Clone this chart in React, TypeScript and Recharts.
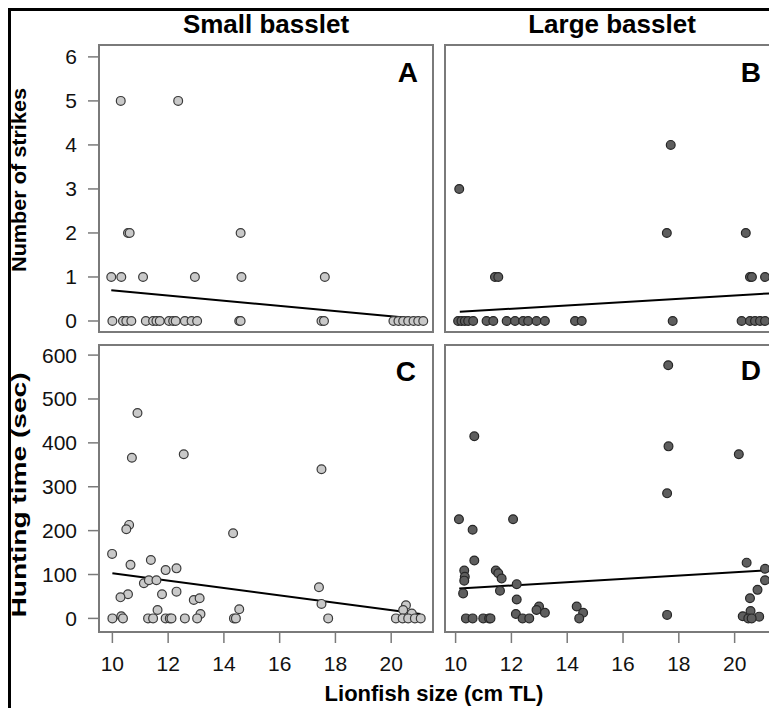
import React from 'react';
import { ScatterChart, Scatter, XAxis, YAxis, ReferenceLine, ReferenceArea } from 'recharts';

const FONT = "'Liberation Sans', Arial, Helvetica, sans-serif";

// Panel A: Small basslet, number of strikes
const smallStrikesX = [10.30, 12.36, 10.56, 10.62, 14.60, 9.96, 10.32, 11.10, 12.96, 14.63, 17.62,
  10.0, 10.38, 10.5, 10.68, 11.2, 11.46, 11.58, 11.7, 12.03, 12.18, 12.27, 12.6, 12.84, 13.04,
  14.55, 14.6, 17.5, 17.59, 20.08, 20.26, 20.43, 20.61, 20.8, 20.97, 21.15];
const smallStrikesY = [5, 5, 2, 2, 2, 1, 1, 1, 1, 1, 1,
  0, 0, 0, 0, 0, 0, 0, 0, 0, 0, 0, 0, 0, 0,
  0, 0, 0, 0, 0, 0, 0, 0, 0, 0, 0];

// Panel B: Large basslet, number of strikes
const largeStrikesX = [10.13, 17.71, 17.57, 20.40, 11.41, 11.53, 20.55, 20.62, 21.09,
  10.09, 10.21, 10.33, 10.45, 10.63, 11.11, 11.35, 11.83, 12.13, 12.42, 12.6, 12.9, 13.2,
  14.28, 14.52, 17.78, 20.25, 20.55, 20.73, 20.91, 21.09];
const largeStrikesY = [3, 4, 2, 2, 1, 1, 1, 1, 1,
  0, 0, 0, 0, 0, 0, 0, 0, 0, 0, 0, 0, 0,
  0, 0, 0, 0, 0, 0, 0, 0];

// Panel C: Small basslet, hunting time (sec)
const smallTimeX = [10.9, 10.7, 12.56, 17.5, 10.6, 10.5, 14.33, 9.99, 11.38, 10.65, 11.91, 12.3,
  11.13, 11.31, 11.58, 12.3, 10.56, 10.29, 11.78, 12.92, 13.13, 17.41, 17.5, 14.55, 11.62, 13.16,
  10.32, 20.53, 20.43, 20.74,
  10.0, 10.38, 11.28, 11.46, 11.91, 12.06, 12.12, 12.6, 13.04, 14.36, 14.43, 17.74, 20.17, 20.41,
  20.61, 20.85, 21.06];
const smallTimeY = [468, 366, 374, 340, 213, 203, 194, 147, 133, 122, 110, 114,
  80, 87, 87, 61, 55, 48, 55, 42, 46, 71, 33, 21, 19, 10,
  5, 30, 19, 11,
  0, 0, 0, 0, 0, 0, 0, 0, 0, 0, 0, 0, 0, 0,
  0, 0, 0];

// Panel D: Large basslet, hunting time (sec)
const largeTimeX = [17.62, 10.67, 17.63, 20.15, 17.58, 10.12, 12.06, 10.61, 10.67, 20.43, 10.31,
  11.44, 11.53, 10.33, 11.65, 10.31, 21.09, 21.09, 12.19, 20.82, 11.59, 10.27, 20.55, 12.19, 12.99,
  14.34, 12.9, 13.2, 14.57, 12.16, 17.58, 20.57, 20.29, 20.88,
  10.37, 10.61, 10.99, 11.2, 11.25, 12.4, 12.64, 14.43, 20.49, 20.61];
const largeTimeY = [577, 415, 392, 374, 285, 226, 226, 202, 132, 127, 109,
  109, 103, 95, 91, 86, 113, 87, 78, 65, 63, 57, 46, 43, 27,
  27, 19, 13, 13, 10, 8, 17, 5, 4,
  0, 0, 0, 0, 0, 0, 0, 0, 0, 0];

// Regression lines (endpoints)
const fitSmallStrikes = [[9.96, 0.70], [21.15, 0.04]];
const fitLargeStrikes = [[10.15, 0.21], [21.6, 0.64]];
const fitSmallTime = [[10.0, 103], [21.05, 10]];
const fitLargeTime = [[10.13, 68], [21.6, 111]];

const xTicks = [10, 12, 14, 16, 18, 20];
const strikeTicks = [0, 1, 2, 3, 4, 5, 6];
const timeTicks = [0, 100, 200, 300, 400, 500, 600];

const toPts = (xs: number[], ys: number[]) => xs.map((x, i) => ({ x, y: ys[i] }));

const LIGHT = { fill: '#c9c9c9', stroke: '#3a3a3a' };
const DARK = { fill: '#5e5e5e', stroke: '#262626' };

const BOX = '#7a7a7a';

type PanelProps = {
  left: number; top: number;
  xDomain: [number, number]; yDomain: [number, number];
  showX: boolean; showY: boolean; yTicks: number[];
  xs: number[]; ys: number[]; fit: number[][]; colors: { fill: string; stroke: string };
};

const PLOT_W = 334;
const PLOT_H = 287;

function Panel(p: PanelProps) {
  const yAxisW = p.showY ? 70 : 0;
  const xAxisH = p.showX ? 45 : 0;
  const margin = { top: 5, right: 5, bottom: p.showX ? 0 : 5, left: p.showY ? 0 : 5 };
  const width = margin.left + yAxisW + PLOT_W + margin.right;
  const height = margin.top + PLOT_H + xAxisH + margin.bottom;
  const data = toPts(p.xs, p.ys);
  return (
    <div style={{ position: 'absolute', left: p.left - margin.left - yAxisW, top: p.top - margin.top }}>
      <ScatterChart width={width} height={height} margin={margin}>
        <XAxis type="number" dataKey="x" domain={p.xDomain} allowDataOverflow ticks={xTicks} interval={0}
          hide={!p.showX} height={xAxisH} axisLine={false} tickSize={11} tickMargin={13}
          tickLine={{ stroke: BOX, strokeWidth: 1.5 }}
          tick={{ fill: '#111', fontSize: 21, fontFamily: FONT }} />
        <YAxis type="number" dataKey="y" domain={p.yDomain} allowDataOverflow ticks={p.yTicks} interval={0}
          hide={!p.showY} width={yAxisW} axisLine={false} tickSize={11} tickMargin={11}
          tickLine={{ stroke: BOX, strokeWidth: 1.5 }}
          tick={{ fill: '#111', fontSize: 21, fontFamily: FONT }} />
        <Scatter data={data} isAnimationActive={false}
          shape={(s: any) => (
            <circle cx={s.cx} cy={s.cy} r={4.4} fill={p.colors.fill} stroke={p.colors.stroke} strokeWidth={1.2} />
          )} />
        <ReferenceLine segment={[{ x: p.fit[0][0], y: p.fit[0][1] }, { x: p.fit[1][0], y: p.fit[1][1] }]}
          stroke="#000" strokeWidth={2} ifOverflow="visible" />
        <ReferenceArea x1={p.xDomain[0]} x2={p.xDomain[1]} y1={p.yDomain[0]} y2={p.yDomain[1]}
          fill="none" fillOpacity={0} stroke={BOX} strokeWidth={2} ifOverflow="visible" />
      </ScatterChart>
    </div>
  );
}

export default function App() {
  const leftDom: [number, number] = [9.52, 21.5];
  const rightDom: [number, number] = [9.62, 21.59];
  const strikeDom: [number, number] = [-0.25, 6.27];
  const timeDom: [number, number] = [-31, 623];
  return (
    <div style={{ position: 'absolute', left: 0, top: 0, width: 769, height: 708, overflow: 'hidden', background: '#fff', fontFamily: FONT }}>
      <div style={{ position: 'absolute', left: 8, top: 8, width: 900, height: 900, borderLeft: '3px solid #000', borderTop: '3px solid #000' }} />
      <Panel left={99} top={45} xDomain={leftDom} yDomain={strikeDom} showX={false} showY={true} yTicks={strikeTicks}
        xs={smallStrikesX} ys={smallStrikesY} fit={fitSmallStrikes} colors={LIGHT} />
      <Panel left={445} top={45} xDomain={rightDom} yDomain={strikeDom} showX={false} showY={false} yTicks={strikeTicks}
        xs={largeStrikesX} ys={largeStrikesY} fit={fitLargeStrikes} colors={DARK} />
      <Panel left={99} top={345} xDomain={leftDom} yDomain={timeDom} showX={true} showY={true} yTicks={timeTicks}
        xs={smallTimeX} ys={smallTimeY} fit={fitSmallTime} colors={LIGHT} />
      <Panel left={445} top={345} xDomain={rightDom} yDomain={timeDom} showX={true} showY={false} yTicks={timeTicks}
        xs={largeTimeX} ys={largeTimeY} fit={fitLargeTime} colors={DARK} />
      <svg width={769} height={708} style={{ position: 'absolute', left: 0, top: 0, pointerEvents: 'none' }}>
        <g fontFamily={FONT} fontWeight="bold" fill="#000">
          <text x={266} y={33} fontSize={26} textAnchor="middle">Small basslet</text>
          <text x={612} y={33} fontSize={26} textAnchor="middle">Large basslet</text>
          <text x={434} y={701} fontSize={22} textAnchor="middle">Lionfish size (cm TL)</text>
          <text x={26} y={180} fontSize={20} textAnchor="middle" transform="rotate(-90 26 180)"
            textLength={184} lengthAdjust="spacingAndGlyphs">Number of strikes</text>
          <text x={26} y={495} fontSize={20} textAnchor="middle" transform="rotate(-90 26 495)"
            textLength={245} lengthAdjust="spacingAndGlyphs">Hunting time (sec)</text>
          <text x={418} y={82} fontSize={28} textAnchor="end">A</text>
          <text x={761} y={82} fontSize={28} textAnchor="end">B</text>
          <text x={416} y={381} fontSize={28} textAnchor="end">C</text>
          <text x={761} y={380} fontSize={28} textAnchor="end">D</text>
        </g>
      </svg>
    </div>
  );
}
